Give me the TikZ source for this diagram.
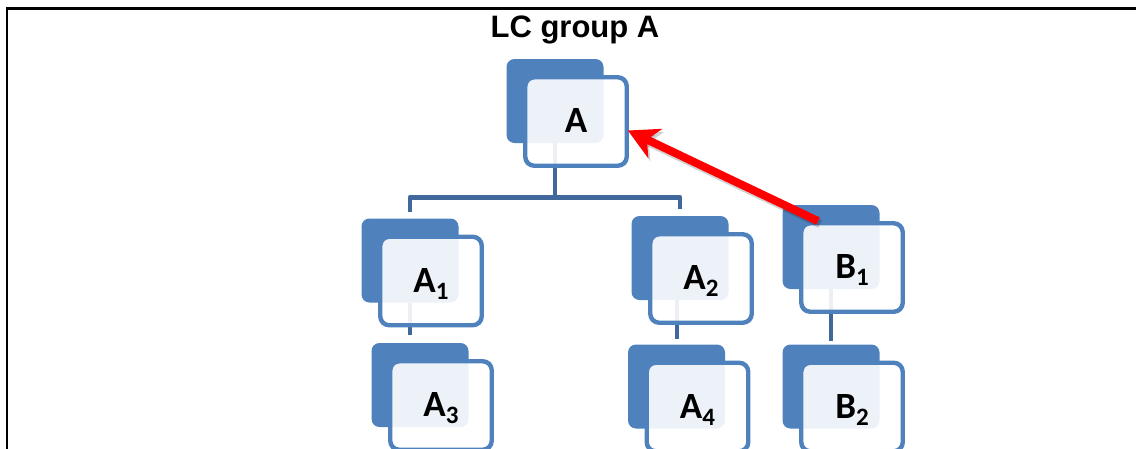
\documentclass[tikz,border=0pt]{standalone}
\usepackage{fontspec}
\setmainfont{Liberation Sans}
\newfontfamily\labfont{Carlito}
\usetikzlibrary{arrows.meta,calc,backgrounds}
\definecolor{bblue}{RGB}{79,129,189}
\definecolor{cblue}{RGB}{64,104,156}
\definecolor{rred}{RGB}{255,0,0}
\tikzset{
  backsq/.style={fill=bblue, rounded corners=8pt, minimum width=97pt, minimum height=84pt, inner sep=0pt},
  frontsq/.style={draw=bblue, line width=4.4pt, fill=white, fill opacity=0.9, rounded corners=9pt, minimum width=101.5pt, minimum height=88.5pt, inner sep=0pt},
  lbl/.style={font=\labfont\bfseries\fontsize{37}{37}\selectfont, inner sep=0pt, anchor=base, text=black},
  conn/.style={draw=cblue, line width=4.6pt, line join=round},
  redarrow/.style={draw=rred, line width=8pt, -{Stealth[length=30pt,width=32pt,inset=9pt]}},
  shadowarrow/.style={draw=black, opacity=0.18, line width=8pt, -{Stealth[length=30pt,width=32pt,inset=9pt]}},
  frameline/.style={draw=black, line width=2.5pt, line join=miter}
}
\newcommand\sub[1]{\raisebox{-7pt}{\fontsize{25}{25}\selectfont #1}}
\newcommand\tile[4]{%
  \node[backsq] (#1b) at (#2,#3) {};
  \node[frontsq] (#1) at ($(#1b)+(21,20.5)$) {};
  \node[lbl] (#1l) at ($(#1)+(0,11)$) {#4};
}
\begin{document}
\begin{tikzpicture}[x=1pt,y=-1pt]
\useasboundingbox (0,0) rectangle (1136,448);
\clip (0,0) rectangle (1136,448);
\draw[frameline] (7,452) -- (7,8.5) -- (1140,8.5);
\node[font=\bfseries\fontsize{31}{31}\selectfont, anchor=base, inner sep=0pt] (title) at (575,37) {LC group A};

\tile{A}{555}{101}{A}
\tile{Aone}{410}{260.5}{A\sub{1}}
\tile{Athree}{420}{385}{A\sub{3}}
\tile{Atwo}{680}{258}{A\sub{2}}
\tile{Afour}{676.5}{386.5}{A\sub{4}}
\tile{Bone}{831}{247}{B\sub{1}}
\tile{Btwo}{831}{386.5}{B\sub{2}}

\begin{scope}[on background layer]
\draw[conn] (Ab.south) -- ($(Ab.south)+(0,54)$) -| ($(Aoneb.north)+(0,-6)$);
\draw[conn] ($(Ab.south)+(0,54)$) -| ($(Atwob.north)+(0,-7)$);
\draw[conn] (Aoneb.south) -- ($(Aoneb.south)+(0,32)$);
\draw[conn] ($(Atwob.south)+(-3,0)$) -- ($(Atwob.south)+(-3,39)$);
\draw[conn] (Boneb.south) -- ($(Boneb.south)+(0,52)$);
\end{scope}

\draw[shadowarrow] ($(Bone.north west)+(21,3)$) -- ($(A.east)+(1,12)$);
\draw[redarrow] ($(Bone.north west)+(19,0)$) -- ($(A.east)+(-1,9)$);
\end{tikzpicture}
\end{document}
